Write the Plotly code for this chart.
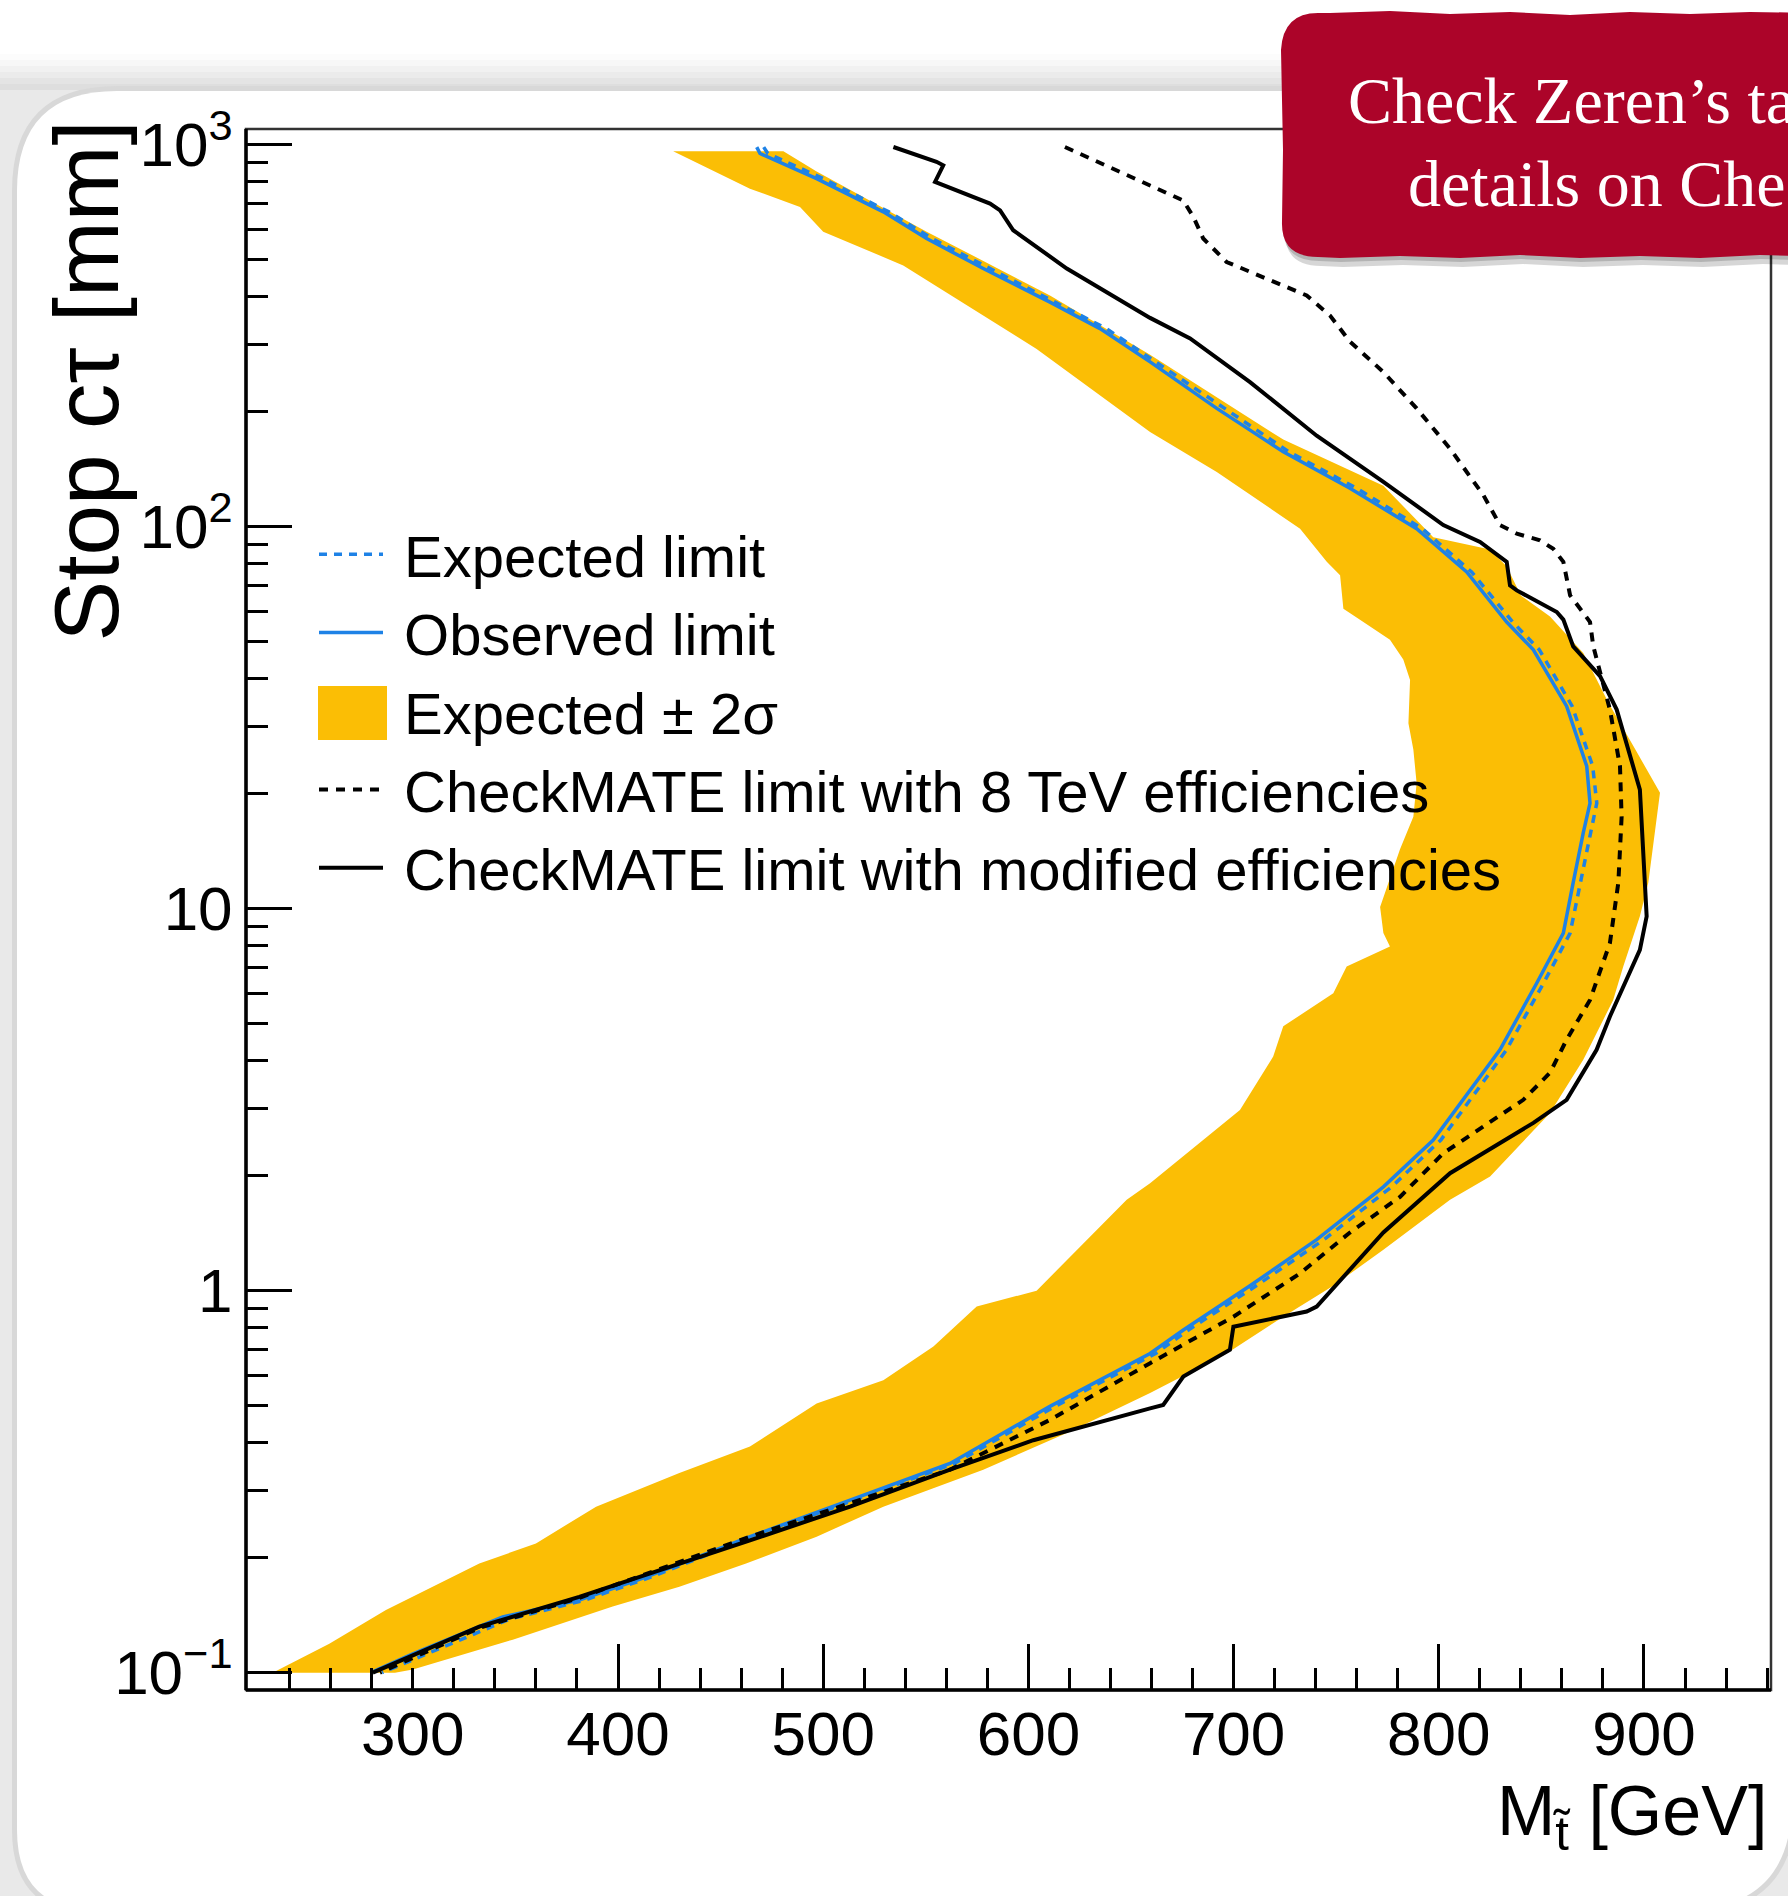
import plotly.graph_objects as go

# ---------------- data ----------------
# Observed limit (blue solid)
obs_mass = [467.6, 469.2, 496.8, 529.3, 550.4, 578.0, 610.5, 634.9, 659.3, 691.8, 724.2, 756.7,
            789.2, 813.6, 833.1, 846.1, 862.3, 872.1, 873.7, 870.4, 865.5, 860.7, 847.7, 829.8,
            797.3, 773.0, 740.5, 708.0, 675.5, 659.3, 610.5, 561.8, 513.1, 464.3, 413.6, 381.1,
            343.8, 300.0, 279.6]
obs_ctau = [985, 948, 815, 667, 568, 474, 387, 330, 270, 204, 157, 126,
            98.8, 76.1, 56.3, 47.6, 33.9, 23.6, 18.9, 15.8, 11.7, 8.63, 6.38, 4.27,
            2.48, 1.87, 1.36, 1.03, 0.789, 0.685, 0.498, 0.353, 0.283, 0.227, 0.178, 0.155,
            0.140, 0.112, 0.100]

# Expected limit (blue dashed)
exp_mass = [471, 473, 500, 532, 553, 581, 613, 638, 662, 695, 727, 760,
            792, 816, 836, 849, 865, 875, 877, 874, 869, 864, 851, 833,
            801, 777, 744, 711, 678, 662, 613, 564, 515, 466, 416, 384,
            347, 303, 285]
exp_ctau = [985, 948, 815, 667, 568, 474, 387, 330, 270, 204, 157, 126,
            98.8, 76.1, 56.3, 47.6, 33.9, 23.6, 18.9, 15.8, 11.7, 8.63, 6.38, 4.27,
            2.48, 1.87, 1.36, 1.03, 0.789, 0.685, 0.498, 0.353, 0.283, 0.227, 0.178, 0.155,
            0.138, 0.110, 0.100]

# CheckMATE limit with modified efficiencies (black solid)
mod_mass = [534.2, 555.2, 558.5, 554.5, 581.3, 586.2, 592.6, 618.7, 659.3, 678.8, 708.0, 740.5,
            773.0, 802.2, 820.1, 833.1, 834.7, 838.0, 857.5, 860.7, 865.5, 878.6, 886.7, 898.0,
            901.3, 898.0, 883.4, 876.9, 862.3, 846.1, 805.5, 773.0, 740.5, 735.6, 699.9, 698.2,
            675.5, 665.7, 659.3, 602.4, 561.8, 513.1, 464.3, 381.1, 332.4, 280.5]
mod_ctau = [986, 902, 883, 799, 701, 673, 597, 474, 352, 311, 239, 173,
            131, 101, 91.2, 80.9, 70.2, 68.1, 59.8, 57.1, 48.6, 40.6, 33.2, 20.5,
            9.55, 7.80, 5.22, 4.27, 3.16, 2.75, 2.03, 1.42, 0.909, 0.882, 0.805, 0.700,
            0.596, 0.502, 0.492, 0.406, 0.340, 0.272, 0.222, 0.158, 0.132, 0.100]

# CheckMATE limit with 8 TeV efficiencies (black dotted)
tev8_mass = [617.8, 659.3, 675.5, 680.4, 685.2, 696.6, 708.0, 724.2, 735.6, 747.0, 756.7, 773.0,
             789.2, 805.5, 821.7, 829.8, 838.0, 849.3, 855.8, 860.7, 864.0, 873.7, 875.3, 883.4,
             888.3, 889.1, 887.5, 883.4, 876.9, 873.7, 862.3, 854.2, 841.2, 821.7, 802.2, 781.1,
             756.7, 732.4, 699.9, 659.3, 610.5, 561.8, 513.1, 464.3, 381.1, 332.4, 284.0]
tev8_ctau = [986, 783, 714, 647, 568, 493, 464, 428, 403, 357, 305, 254,
             204, 160, 121, 101, 95.9, 92.1, 87.5, 80.9, 66.1, 56.3, 48.6, 33.2,
             23.6, 17.4, 11.7, 8.13, 6.38, 5.77, 4.54, 3.72, 3.16, 2.69, 2.29, 1.76,
             1.42, 1.11, 0.855, 0.646, 0.459, 0.340, 0.278, 0.227, 0.157, 0.131, 0.100]

# Expected +-2 sigma band (closed contour: inner edge top->bottom, outer edge bottom->top)
band_mass = [426.9, 464.3, 488.7, 500.0, 539.0, 604.0, 659.3, 691.8, 732.4, 745.4, 751.9, 753.5,
             761.6, 776.2, 782.7, 786.0, 785.2, 787.6, 789.2, 787.6, 781.1, 771.4, 773.0, 776.2,
             755.1, 748.6, 724.2, 719.3, 703.1, 659.3, 647.9, 604.0, 574.8, 553.7, 529.3, 496.8,
             464.3, 429.9, 389.3, 360.0, 332.4, 286.9, 259.3, 231.7,
             291.3, 300.0, 348.7, 397.4, 429.9, 462.4, 496.8, 529.3, 578.0, 618.7, 659.3, 696.6,
             724.2, 748.6, 773.0, 805.5, 825.0, 854.2, 870.4, 885.0, 889.9, 898.0, 902.1, 905.3,
             907.8, 895.8, 882.8, 870.4, 854.2, 840.0, 833.1, 825.0, 797.3, 773.0, 724.2, 659.3,
             610.5, 550.4, 496.8, 480.6]
band_ctau = [961, 767, 687, 592, 483, 292, 177, 139, 98.8, 80.9, 74.6, 61.0,
             57.1, 50.6, 44.9, 39.7, 30.6, 26.1, 21.3, 17.4, 14.3, 10.1, 8.63, 7.96,
             7.06, 6.01, 4.92, 4.10, 2.97, 1.91, 1.73, 1.00, 0.909, 0.714, 0.583, 0.507,
             0.391, 0.333, 0.272, 0.218, 0.193, 0.146, 0.119, 0.100,
             0.100, 0.102, 0.122, 0.149, 0.168, 0.193, 0.227, 0.272, 0.340, 0.424, 0.540, 0.685,
             0.855, 1.03, 1.28, 1.73, 1.99, 2.92, 4.02, 5.77, 7.06, 9.55, 11.7, 16.1,
             20.1, 26.1, 34.5, 46.7, 58.2, 66.0, 78.7, 87.1, 93.8, 128, 169, 282,
             403, 592, 851, 961]

# ticks
x_tick_vals = [300, 400, 500, 600, 700, 800, 900]
x_tick_text = ["300", "400", "500", "600", "700", "800", "900"]
x_long_ticks = [400, 500, 600, 700, 800, 900]
x_minor_vals = [240, 260, 280, 320, 340, 360, 380, 420, 440, 460, 480, 520, 540, 560, 580,
                620, 640, 660, 680, 720, 740, 760, 780, 820, 840, 860, 880, 920, 940, 960]
y_tick_vals = [0.1, 1, 10, 100, 1000]
y_tick_text = ["10<sup>\u22121</sup>", "1", "10", "10<sup>2</sup>", "10<sup>3</sup>"]
y_minor_vals = [0.2, 0.3, 0.4, 0.5, 0.6, 0.7, 0.8, 0.9, 2, 3, 4, 5, 6, 7, 8, 9,
                20, 30, 40, 50, 60, 70, 80, 90, 200, 300, 400, 500, 600, 700, 800, 900]

legend_names = ["Expected limit", "Observed limit", "Expected \u00b1 2\u03c3",
                "CheckMATE limit with 8 TeV efficiencies",
                "CheckMATE limit with modified efficiencies"]

# ---------------- page geometry ----------------
W, H = 1788, 1896
ML, MR, MT, MB = 246, 17, 129, 206
PW = W - ML - MR
PH = H - MT - MB
XR = [218.7, 961.9]
YR = [-1.0453, 3.041]


def px(x):
    return (x - ML) / PW


def py(y):
    return (H - MB - y) / PH


def path_from(points, closed=True):
    s = ""
    for i, p in enumerate(points):
        if p[0] == "Q":
            s += " Q%.5f,%.5f %.5f,%.5f" % (px(p[1]), py(p[2]), px(p[3]), py(p[4]))
        else:
            s += ("M" if i == 0 else " L") + "%.5f,%.5f" % (px(p[0]), py(p[1]))
    return s + (" Z" if closed else "")


def rounded(l, t, r, b, rtl, rtr, rbr, rbl):
    return path_from([
        (l + rtl, t), (r - rtr, t), ("Q", r, t, r, t + rtr),
        (r, b - rbr), ("Q", r, b, r - rbr, b),
        (l + rbl, b), ("Q", l, b, l, b - rbl),
        (l, t + rtl), ("Q", l, t, l + rtl, t)])


BAND = "#FBBE05"
BLUE = "#1E82E6"
NB = "\u00a0"

fig = go.Figure()
fig.add_trace(go.Scatter(x=band_mass, y=band_ctau, mode="lines", fill="toself",
                         fillcolor=BAND, line=dict(width=0, color=BAND),
                         name=NB + legend_names[2], legendrank=3, legendgroup="c"))
fig.add_trace(go.Scatter(x=exp_mass, y=exp_ctau, mode="lines",
                         line=dict(color=BLUE, width=3.5, dash="8px,7px"),
                         name=NB + legend_names[0], legendrank=1, legendgroup="a"))
fig.add_trace(go.Scatter(x=obs_mass, y=obs_ctau, mode="lines",
                         line=dict(color=BLUE, width=3.5),
                         name=NB + legend_names[1], legendrank=2, legendgroup="b"))
fig.add_trace(go.Scatter(x=tev8_mass, y=tev8_ctau, mode="lines",
                         line=dict(color="black", width=4, dash="9px,8px"),
                         name=NB + legend_names[3], legendrank=4, legendgroup="d"))
fig.add_trace(go.Scatter(x=mod_mass, y=mod_ctau, mode="lines", xaxis="x2",
                         line=dict(color="black", width=4),
                         name=NB + legend_names[4], legendrank=5, legendgroup="e"))

shapes = []
# slide background / shadows
shapes.append(dict(type="rect", xref="paper", yref="paper", x0=px(0), x1=px(W), y0=py(H), y1=py(88),
                   fillcolor="#e9e9e9", line=dict(width=0), layer="below"))
grad = ["#fcfcfc", "#f7f7f7", "#f1f1f1", "#ebebeb", "#e4e4e4", "#dedede"]
for i, c in enumerate(grad):
    y0 = 54 + i * 6
    shapes.append(dict(type="rect", xref="paper", yref="paper", x0=px(0), x1=px(W),
                       y0=py(y0 + 6), y1=py(y0), fillcolor=c, line=dict(width=0), layer="below"))
shapes.append(dict(type="path", xref="paper", yref="paper",
                   path=rounded(12, 86, 1797, 1915, 105, 45, 115, 85),
                   fillcolor="#d8d8d8", line=dict(width=0), layer="below"))
shapes.append(dict(type="path", xref="paper", yref="paper",
                   path=rounded(17, 91, 1792, 1910, 100, 40, 110, 80),
                   fillcolor="white", line=dict(width=0), layer="below"))

# plot frame (top/right thinner, left/bottom axes thicker)
shapes.append(dict(type="rect", xref="paper", yref="paper", x0=0, x1=1, y0=0, y1=1,
                   line=dict(color="#333333", width=2.5), fillcolor="rgba(0,0,0,0)", layer="above"))
shapes.append(dict(type="line", xref="paper", yref="paper", x0=0, x1=0, y0=0, y1=1,
                   line=dict(color="black", width=3.5), layer="above"))
shapes.append(dict(type="line", xref="paper", yref="paper", x0=0, x1=1, y0=0, y1=0,
                   line=dict(color="black", width=3.5), layer="above"))

# legend swatch for the +-2 sigma band (ROOT-style filled box)
shapes.append(dict(type="rect", xref="paper", yref="paper", x0=px(318), x1=px(387),
                   y0=py(740), y1=py(686), fillcolor=BAND, line=dict(width=0), layer="above"))

# callout box (wobbly red note)
top_pts = [(1330, 13), (1390, 11), (1450, 14), (1510, 12), (1570, 15), (1630, 12), (1690, 14),
           (1750, 12), (1830, 13)]
bot_pts = [(1830, 257), (1760, 255), (1700, 258), (1640, 256), (1580, 258), (1520, 255), (1460, 258),
           (1400, 256), (1340, 258), (1318, 257)]


def note_path(dx=0, dy=0):
    pts = [(1318 + dx, 13 + dy)]
    pts += [(x + dx, y + dy) for x, y in top_pts]
    pts += [(x + dx, y + dy) for x, y in bot_pts]
    pts += [("Q", 1281 + dx, 257 + dy, 1282 + dx, 222 + dy), (1283 + dx, 150 + dy), (1281 + dx, 50 + dy),
            ("Q", 1283 + dx, 13 + dy, 1318 + dx, 13 + dy)]
    return path_from(pts)


shapes.append(dict(type="path", xref="paper", yref="paper", path=note_path(3, 9),
                   fillcolor="rgba(0,0,0,0.16)", line=dict(width=0), layer="above"))
shapes.append(dict(type="path", xref="paper", yref="paper", path=note_path(1, 4),
                   fillcolor="rgba(0,0,0,0.16)", line=dict(width=0), layer="above"))
shapes.append(dict(type="path", xref="paper", yref="paper", path=note_path(),
                   fillcolor="#AC0429", line=dict(width=0), layer="above"))

annotations = [
    dict(text="Stop c\u03c4 [mm]", textangle=-90, xref="paper", yref="paper",
         x=px(86), y=py(119), xanchor="center", yanchor="top", showarrow=False,
         font=dict(size=91, color="black", family="Liberation Sans, Arial, sans-serif")),
    dict(text="M<sub>t\u0303</sub> [GeV]", xref="paper", yref="paper",
         x=px(1769), y=py(1816), xanchor="right", yanchor="middle", showarrow=False,
         font=dict(size=70, color="black", family="Liberation Sans, Arial, sans-serif")),
    dict(text="Check Zeren\u2019s talk for more", xref="paper", yref="paper",
         x=px(1346), y=py(101), xanchor="left", yanchor="middle", showarrow=False,
         font=dict(size=66, color="white", family="Liberation Serif, serif")),
    dict(text="details on CheckMATE", xref="paper", yref="paper",
         x=px(1406), y=py(184), xanchor="left", yanchor="middle", showarrow=False,
         font=dict(size=66, color="white", family="Liberation Serif, serif")),
]

fig.update_layout(
    width=W, height=H,
    margin=dict(l=ML, r=MR, t=MT, b=MB, pad=0, autoexpand=False),
    paper_bgcolor="white", plot_bgcolor="rgba(0,0,0,0)",
    font=dict(family="Liberation Sans, Arial, sans-serif", color="black"),
    showlegend=True,
    legend=dict(x=px(314), y=py(510), xanchor="left", yanchor="top",
                bgcolor="rgba(0,0,0,0)", borderwidth=0, font=dict(size=58),
                tracegroupgap=0, itemwidth=64, traceorder="grouped"),
    xaxis=dict(range=XR, showgrid=False, zeroline=False,
               showline=True, linecolor="black", linewidth=1,
               ticks="inside", ticklen=22, tickwidth=2.5, tickcolor="black",
               tickmode="array", tickvals=x_tick_vals, ticktext=x_tick_text,
               tickfont=dict(size=62), ticklabelstandoff=-10,
               minor=dict(ticks="inside", ticklen=22, tickwidth=2.5, tickcolor="black",
                          tickmode="array", tickvals=x_minor_vals, showgrid=False)),
    xaxis2=dict(range=XR, overlaying="x", anchor="y", side="bottom",
                showgrid=False, zeroline=False, showline=False,
                ticks="inside", ticklen=46, tickwidth=2.5, tickcolor="black",
                tickmode="array", tickvals=x_long_ticks, showticklabels=False),
    yaxis=dict(type="log", range=YR, showgrid=False, zeroline=False,
               showline=True, linecolor="black", linewidth=1,
               ticks="inside", ticklen=46, tickwidth=2.5, tickcolor="black",
               tickmode="array", tickvals=y_tick_vals, ticktext=y_tick_text,
               tickfont=dict(size=62), ticklabelstandoff=0,
               minor=dict(ticks="inside", ticklen=22, tickwidth=2.5, tickcolor="black",
                          tickmode="array", tickvals=y_minor_vals, showgrid=False)),
    shapes=shapes,
    annotations=annotations,
)

fig.write_html("out.html", config={"displayModeBar": False},
               post_script="document.body.style.margin='0';document.body.style.overflow='hidden';")
